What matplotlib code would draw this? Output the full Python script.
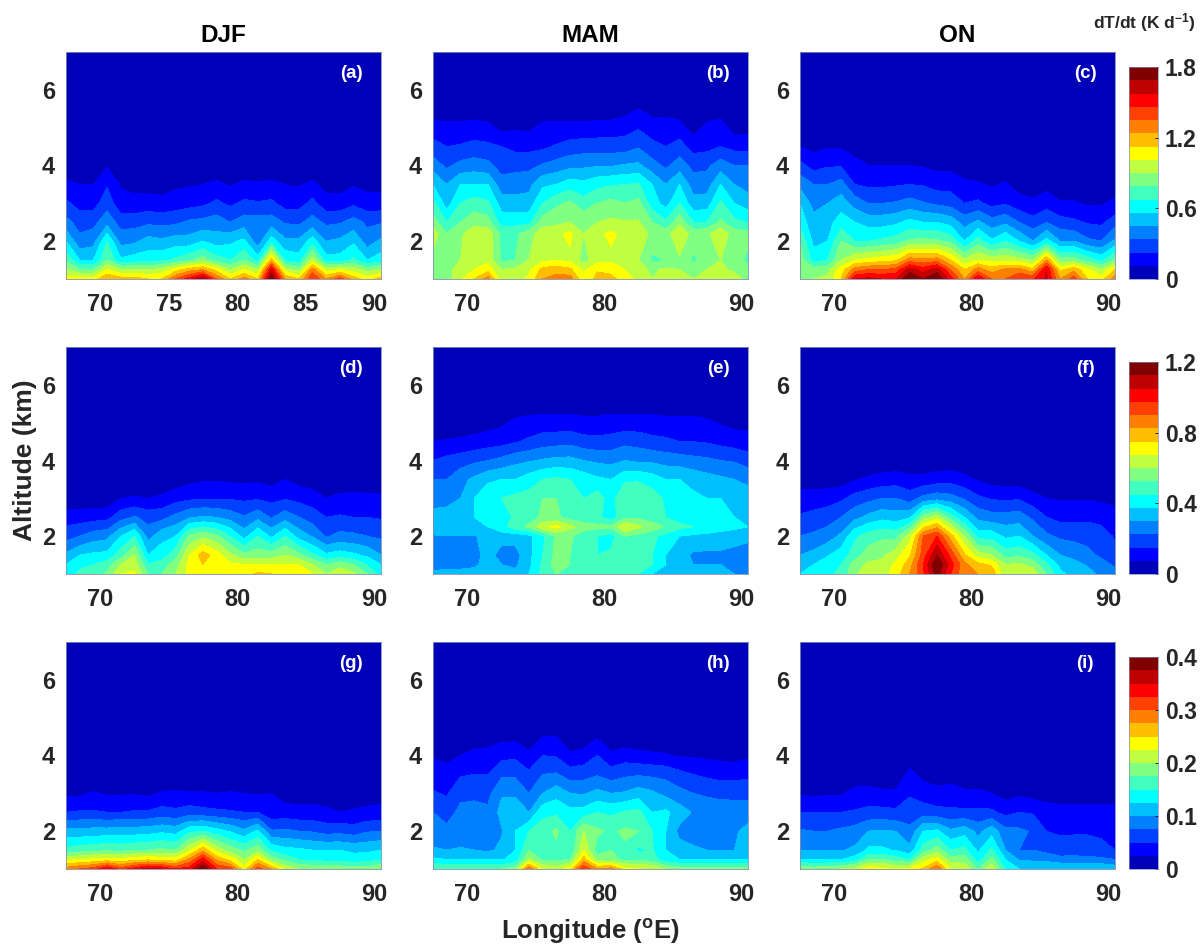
import numpy as np
import matplotlib
matplotlib.use("Agg")
import matplotlib.pyplot as plt
from matplotlib.colors import ListedColormap

plt.rcParams['font.family'] = ['Liberation Sans', 'DejaVu Sans']
plt.rcParams['font.weight'] = 'bold'
plt.rcParams['mathtext.fontset'] = 'custom'
plt.rcParams['mathtext.bf'] = 'Liberation Sans:bold'
plt.rcParams['mathtext.rm'] = 'Liberation Sans:bold'

lon = np.arange(67.5, 91, 1.0)
alt = [1, 1.25, 1.5, 2, 2.5, 3, 3.5, 4, 4.5, 5, 5.5, 6, 7]
alt_b = [1, 1.25, 1.5, 2.2, 2.5, 3, 3.5, 4, 4.5, 5, 5.5, 6, 7]
alt_e = [1, 1.25, 1.5, 2, 2.25, 2.5, 3, 3.5, 4, 4.5, 5, 5.5, 6, 7]

# heating rates, in colour steps (1/16 of the bar), lowest altitude first
vals_a = [
    [9.5, 9.5, 9.5, 11, 10.5, 10.5, 10, 10, 12, 13.5, 15, 12, 10, 11.5, 10, 16, 11, 10, 13, 11, 12.5, 10.5, 9.5, 10.5],
    [8, 7, 7, 9, 8, 8, 8, 8.3, 9.5, 10.5, 11, 9.5, 8, 9, 8, 14, 8.5, 7.5, 11.5, 8.5, 9, 8.5, 7.5, 8],
    [6.8, 5, 5, 7, 5.2, 5.5, 5.6, 5.8, 6.2, 6.8, 7.5, 6.5, 6, 7, 5.5, 10.5, 5.8, 5.5, 8.5, 5.4, 5.4, 6.2, 5, 5.5],
    [5, 3.3, 3.6, 6, 3.6, 3.8, 4.4, 4.2, 4.5, 4.4, 5, 4.5, 4.8, 5.2, 3.4, 5.5, 4.2, 4.2, 5.5, 4, 4.2, 4.8, 3.5, 4.2],
    [3.3, 2.6, 2.7, 3.6, 2.6, 2.6, 2.8, 2.7, 2.8, 3.2, 3.3, 3.5, 3, 3.5, 3.5, 3.5, 2.9, 2.8, 3.4, 2.8, 2.9, 3.4, 2.8, 2.9],
    [2.2, 1.6, 1.6, 2.6, 1.3, 1.3, 1.4, 1.3, 1.5, 1.6, 1.8, 2.2, 1.8, 2.2, 2.1, 2.2, 1.6, 1.6, 2.3, 1.4, 1.4, 1.8, 1.4, 1.4],
    [1.2, 1, 1, 1.9, .9, .7, .6, .6, .8, .9, 1, 1.2, .9, 1.2, 1.1, 1.2, 1, .9, 1.2, .6, .6, .9, .7, .7],
    [.3, .2, .2, .9, .2, .1, .1, .1, .2, .2, .2, .3, .2, .3, .3, .3, .2, .2, .3, .1, .1, .2, .1, .1],
]
vals_b = [
    [7.2, 7.5, 8.8, 10, 11.5, 8.5, 8.5, 9.2, 11, 11.4, 11.5, 9.2, 10.3, 10.3, 9.5, 8.7, 8, 8.6, 8.1, 8, 8.2, 8.8, 8.5, 7.5],
    [7.2, 7.6, 8.5, 9, 9.6, 8, 8.2, 8.8, 10.3, 10.6, 10.2, 8.8, 9.9, 9.7, 9, 8.4, 7.8, 8.2, 8, 7.6, 8, 8.2, 7.8, 7.2],
    [7.6, 7.5, 8, 8.6, 8.7, 6.8, 7, 8, 8.8, 8.9, 8.8, 7.6, 8.6, 8.8, 8.5, 8, 6.8, 7, 7.8, 6.8, 7.4, 8, 7.4, 6.8],
    [8.6, 7, 7.8, 8.7, 8.6, 6.8, 6.8, 7.5, 8.6, 8.8, 9.2, 8, 8.8, 9.2, 8.7, 8.7, 7.7, 7.5, 9, 7.5, 7.8, 8.7, 7.5, 7.3],
    [7.5, 6, 7, 7.6, 7.4, 5.6, 5.6, 5.7, 7.5, 7.7, 8, 7.8, 8, 8.2, 8.1, 8.1, 7, 6.2, 7.7, 6, 6, 7.2, 6.3, 5.9],
    [6.3, 4.5, 6, 6.5, 6.2, 4.5, 4.4, 4.4, 6, 6.8, 7.2, 6.4, 7, 7.3, 7, 7.3, 5.5, 4.6, 6, 4.4, 4.5, 6.2, 5, 4.5],
    [5, 4, 5, 5, 5, 3.4, 3.5, 3.7, 4.8, 5, 5.5, 5.3, 5.7, 5.9, 6, 6.1, 5, 4, 5, 3.5, 3.5, 5, 4, 3.6],
    [3.5, 2.8, 3.3, 3.5, 3.3, 2.6, 2.7, 2.7, 3.1, 3.4, 3.7, 3.8, 3.9, 3.9, 4.1, 4.2, 3.4, 2.8, 3.5, 2.7, 2.8, 3.5, 3, 3],
    [2.4, 2, 2.1, 2.3, 2.2, 2, 1.7, 1.7, 1.8, 2.1, 2.4, 2.5, 2.5, 2.5, 2.5, 2.9, 2.3, 2, 2.4, 1.6, 1.7, 2, 1.7, 1.6],
    [1.4, 1.3, 1.3, 1.4, 1.3, .7, .9, .8, 1.3, 1.3, 1.3, 1.3, 1.4, 1.4, 1.6, 1.9, 1.5, 1.5, 1.4, .5, 1.3, 1.5, .5, .7],
    [.4, .3, .3, .4, .3, .1, .1, .1, .3, .3, .3, .3, .4, .4, .6, 1, .6, .6, .4, 0, .3, .4, 0, 0],
]
vals_c = [
    [7.5, 8, 8.3, 10, 14, 14.3, 14, 14, 16, 15, 16, 13.5, 11, 14, 12, 12, 13, 12.8, 14.2, 11, 12.5, 10, 9.5, 11.5],
    [7.5, 7.4, 7.6, 9.5, 11.5, 12, 12, 12.3, 14.5, 13.5, 14.5, 12, 10, 11.5, 10.5, 11.2, 11.4, 10.3, 14, 9.7, 10.7, 9.2, 8, 10],
    [7.5, 5.6, 6, 8, 9, 9.3, 9.6, 9.8, 11.5, 11.3, 11.5, 10, 8.2, 9, 8.6, 8.7, 8.4, 7.8, 11, 7.4, 7.4, 6.6, 5.7, 7.2],
    [7, 4.7, 5, 7, 6, 6, 6.2, 6.5, 7.2, 7.3, 7.2, 6.7, 5, 6.5, 5.2, 6, 5, 4, 5.4, 4, 4, 3.2, 3, 4.2],
    [5.5, 4.4, 4.6, 5.5, 5, 4.6, 4.6, 4.8, 5.3, 5, 5, 4.6, 3.6, 4.2, 3.4, 3.8, 3, 2.4, 3, 2.4, 2.2, 1.9, 1.8, 2.5],
    [5, 3.6, 4, 4.5, 3.6, 3, 3, 3.1, 3.4, 3.1, 2.8, 2.6, 2, 2.2, 1.7, 1.9, 1.4, 1.2, 1.5, 1.1, 1.1, .9, .9, 1.2],
    [3.7, 3, 3, 3.4, 2, 1.8, 1.8, 1.9, 2, 1.9, 1.6, 1.6, 1.2, 1.1, .9, 1.1, .6, .5, .7, .4, .4, .3, .3, .5],
    [2.3, 1.6, 1.9, 1.9, 1.4, 1, 1, 1, 1, .9, .7, .7, .5, .4, .3, .4, .2, .1, .3, 0, 0, 0, 0, .1],
    [1, .7, .9, .9, .5, .3, .3, .3, .3, .2, 0, 0, 0, 0, 0, 0, 0, 0, 0, 0, 0, 0, 0, 0],
]
vals_d = [
    [5.5, 6.2, 6.5, 7.2, 9, 9.2, 7, 7, 8, 9.2, 9.6, 9.6, 9.6, 9.6, 10.2, 10, 9.6, 9.6, 9, 8, 8.8, 8.2, 7, 5.5],
    [5, 5.8, 6, 6.5, 8, 8.5, 6, 6.5, 7.5, 9.3, 10, 9.8, 9.2, 9, 9, 9, 9, 9, 8, 7, 7.6, 7, 5.9, 5],
    [4.2, 5, 5.2, 5.3, 6.5, 8, 5, 5.5, 6.6, 9, 10.5, 9.5, 8.2, 7.3, 7.5, 7.5, 8, 7.3, 6.2, 5.2, 5.5, 5.2, 4.8, 4],
    [2.6, 3, 3.5, 3.7, 5, 6, 3.6, 4.7, 5, 7.2, 7.8, 7.2, 6, 4.6, 6, 4.8, 6, 4.6, 3.9, 2.9, 3.3, 3.2, 3, 2.8],
    [1.5, 1.5, 1.6, 1.7, 2.6, 3.1, 2.6, 2.7, 3.3, 3.9, 4.1, 4, 3.6, 3.1, 3.7, 2.9, 3.6, 3, 2.5, 2, 2.1, 2, 2, 1.9],
    [.3, .3, .3, .3, 1, 1.1, 1, 1.2, 1.6, 1.8, 1.9, 1.9, 1.9, 1.8, 1.9, 1.7, 1.9, 1.7, 1.5, 1, 1.3, 1.3, 1.3, 1.3],
    [0, 0, 0, 0, .2, .2, .2, .2, .4, .7, .9, .9, .8, .8, .8, .6, 1, .6, .4, 0, .2, .3, .2, .2],
]
vals_e = [
    [4.1, 4.2, 4.2, 4.2, 4.2, 4.3, 4.3, 5, 6.3, 7, 6.5, 6.3, 6.3, 6.4, 7, 6, 5, 4.5, 4.2, 4.2, 4.2, 4.2, 4, 3.8],
    [3.8, 3.8, 3.8, 3.9, 4.2, 4, 3.8, 4.7, 6.2, 7.5, 7, 6.5, 6, 6.2, 6.5, 6.5, 6, 5, 4.2, 4, 4, 4, 3.6, 3.5],
    [3.5, 3.5, 3.5, 3.5, 4.5, 3.5, 3.6, 4.7, 6, 7.3, 7, 6.5, 6, 6.2, 6.5, 6.2, 6, 5, 4.5, 3.8, 3.8, 3.8, 3.6, 3.4],
    [3.9, 3.9, 3.9, 3.9, 4.4, 4.5, 4.4, 4.7, 5.7, 7.2, 7.2, 6.4, 6, 5.6, 7, 6.7, 6.2, 5.7, 5, 4.8, 4.7, 4.6, 4.5, 4.3],
    [4.7, 4.8, 4.9, 5, 5, 5.6, 6.6, 7.2, 8.7, 9.3, 8.3, 7.5, 7.3, 7.2, 9, 8.2, 7.6, 6.9, 6.3, 6, 5.7, 5.4, 5.2, 5],
    [4.5, 4.6, 4.7, 5, 5.3, 5.4, 6.2, 6.5, 7.2, 7.2, 6.6, 6.3, 6.2, 5.5, 6.8, 6.8, 6.4, 6, 5.5, 5.3, 5.3, 5.2, 5, 4.8],
    [3.4, 3.5, 4, 5, 5.7, 6, 6.3, 6.4, 7, 7, 6.2, 6, 6.5, 5.5, 7, 6.7, 6.5, 5.8, 5.3, 5.2, 5, 5, 4.9, 4.4],
    [3, 3, 3.7, 4.2, 4.8, 5, 5, 5.5, 6, 6.2, 6, 5.6, 5.2, 5, 5.8, 5.9, 5.5, 5, 5, 4.7, 4.4, 4.2, 4, 3.8],
    [2, 2.3, 2.5, 2.8, 3, 3.3, 3.7, 3.9, 4.1, 4.3, 4.3, 4, 3.8, 3.7, 4, 3.8, 3.8, 3.6, 3.5, 3.3, 3.2, 3, 2.9, 2.5],
    [1, 1.1, 1.2, 1.3, 1.5, 1.6, 1.9, 2.2, 2.5, 2.6, 2.7, 2.4, 2.3, 2.4, 2.7, 2.6, 2.3, 2.2, 2, 2, 1.9, 1.7, 1.5, 1.4],
    [0, .2, .3, .5, .6, .8, 1.2, 1.3, 1.4, 1.4, 1.4, 1.3, 1.3, 1.4, 1.4, 1.4, 1.4, 1.3, 1.3, 1.3, 1.2, .9, .7, .7],
    [0, 0, 0, 0, 0, 0, .4, .5, .5, .5, .5, .4, .4, .5, .5, .5, .5, .4, .4, .4, .3, 0, 0, 0],
]
vals_f = [
    [5, 5.4, 5.8, 6.2, 7.8, 8.7, 8.5, 9.5, 11, 12.8, 15.5, 13, 11.2, 11, 10.8, 8, 8.7, 8.8, 7, 5.2, 4.7, 4.3, 3.8, 3.5],
    [4.5, 5, 5.5, 6, 7.5, 8.2, 8.3, 9.2, 10.5, 13, 16, 13.5, 11.3, 10.3, 9.8, 8, 8.2, 7.6, 6.2, 4.7, 4.3, 3.9, 3.4, 2.8],
    [4, 4.3, 4.9, 5.5, 6.5, 7.5, 7.8, 8.6, 9.8, 12.5, 15, 12.7, 10.2, 8.5, 8, 6.6, 6.8, 6.3, 5, 4, 3.7, 3.3, 2.8, 2.3],
    [3, 3.2, 3.5, 4.2, 5.8, 6.5, 6.8, 6.7, 8.5, 12, 13, 10.5, 8, 5.6, 5.6, 4.8, 5, 4, 3.2, 2.8, 2.7, 2.6, 2.4, 1.9],
    [2.1, 2.3, 2.5, 3, 3.7, 4.3, 4.7, 4.5, 4.8, 7.5, 8.5, 6.5, 5, 3.7, 3.4, 3.4, 3.5, 2.8, 2, 1.7, 1.7, 1.8, 1.7, 1.4],
    [1.5, 1.5, 1.6, 1.8, 2.4, 2.7, 3, 3, 2.5, 3.3, 3.6, 3.4, 2.9, 2.2, 1.9, 1.8, 1.9, 1.4, 1, .9, .9, .9, .8, .7],
    [.4, .4, .4, .5, .9, 1.2, 1.4, 1.5, 1.3, 1.3, 1.5, 1.6, 1.3, .9, .6, .5, .4, .2, 0, 0, 0, 0, 0, 0],
    [0, 0, 0, 0, 0, .1, .2, .3, .2, .2, .3, .3, .2, 0, 0, 0, 0, 0, 0, 0, 0, 0, 0, 0],
]
vals_g = [
    [11.5, 12, 12.5, 14, 12.5, 13.5, 14.5, 14, 13, 13.5, 16, 13, 12.5, 9.5, 12.5, 11, 8.8, 8, 7.8, 7.6, 7.7, 7.5, 7.5, 8],
    [8.7, 9, 9.2, 9.4, 9.2, 9.7, 9.8, 9.6, 9.4, 11.2, 13.5, 10.8, 9.6, 8, 10, 7.5, 6.7, 6, 5.7, 5.7, 5.6, 5.4, 5.6, 5.9],
    [6.4, 6.5, 6.7, 6.8, 6.7, 6.9, 7, 7.2, 7, 8.8, 10.7, 8.6, 7.5, 6.8, 7.6, 5.8, 5.3, 5.2, 5, 5, 5, 4.8, 4.8, 5],
    [4.3, 4.3, 4.4, 4.4, 4.5, 4.5, 4.6, 4.8, 4.6, 5.7, 6, 5.4, 4.9, 4.2, 5.2, 3.1, 3.2, 3, 2.9, 2.6, 2.7, 2.5, 2.9, 3],
    [2, 2.1, 2.1, 2, 2, 2.1, 2.1, 2.4, 2.2, 2.5, 2.3, 2.2, 2.1, 2, 2, 1.3, 1.4, 1.3, 1.3, 1.2, 1, 1.1, 1.2, 1.2],
    [.8, .8, 1.1, .9, .9, .9, .8, 1.1, 1.2, 1.1, 1.1, 1, 1.1, 1, .9, 1, .5, .6, .6, .5, .4, .5, .6, .7],
]
vals_h = [
    [7, 7, 7, 7, 7, 7, 7.5, 12, 9, 8.5, 9.5, 13, 11, 11.5, 9.5, 9, 9, 8, 7.5, 7.5, 7.5, 7.5, 7.5, 7.3],
    [5.2, 5, 5, 5, 5, 4.9, 5.3, 8.2, 6.8, 6.8, 7, 10.5, 7.5, 7.3, 6.8, 6.8, 6.5, 5.4, 5, 5, 5, 5, 5, 5],
    [4.1, 4, 4.1, 4, 3.8, 4.2, 5, 7, 6.3, 6.8, 6, 9, 6.5, 7, 6.8, 5.8, 6.1, 5, 4.4, 4.2, 4, 4, 4, 4.1],
    [3.5, 3.3, 3.4, 3.4, 3.4, 3.9, 5, 6, 6.5, 7.2, 6, 8, 7.2, 6.8, 7.2, 7, 6, 5, 3.7, 3.4, 3.5, 3.5, 3.9, 4.2],
    [3, 2.5, 3.3, 3.3, 3.2, 4.3, 4.4, 4, 5.7, 5.8, 5.3, 5.4, 6, 5.8, 6.1, 6.3, 5, 5.2, 4.5, 3.9, 3.8, 3.8, 3.7, 3.7],
    [2.1, 1.9, 2.7, 2.8, 2.7, 3.9, 3.9, 3, 4, 4.6, 4, 3.9, 4.3, 4, 4.1, 4.5, 4.2, 3.7, 3.3, 3, 2.8, 2.6, 2.6, 2.6],
    [1.5, 1.4, 1.9, 2, 2, 2.8, 2.8, 2.2, 3, 3.1, 2.5, 2.6, 2.9, 2.5, 2.8, 2.9, 2.8, 2.7, 2.3, 2, 1.8, 1.7, 1.7, 1.8],
    [.9, .7, 1, 1.4, 1.5, 1.7, 1.8, 1.3, 2, 1.9, 1.2, 1.4, 2, 1.2, 1.5, 1.3, 1.2, 1.1, .9, .9, .8, .7, .6, .8],
    [0, 0, 0, .2, .3, .7, .7, .2, 1, 1, .2, .3, .9, .2, .3, .2, .1, .1, 0, 0, 0, 0, 0, 0],
]
vals_i = [
    [8, 7.5, 7.7, 8, 8.5, 9.7, 9.4, 9, 9.3, 10.2, 12, 9, 8.8, 7, 8.8, 6, 5, 5, 5, 5, 5, 5, 5, 4.7],
    [5, 5, 5, 5, 5.5, 7, 7, 6.5, 6, 8.5, 9.5, 7.5, 7.5, 5.5, 7.3, 5, 3.9, 3.8, 3.7, 3.4, 3.4, 3.3, 3.2, 3],
    [4, 3.9, 3.9, 3.9, 4.2, 5.2, 5.2, 4.9, 4.3, 6.5, 7.5, 6, 6.3, 4.8, 6.2, 4, 3, 3, 2.7, 2.3, 2.4, 2.4, 2.3, 2],
    [3.1, 3, 3, 3.2, 3.4, 4, 4.1, 4, 3.3, 5, 5.2, 4.2, 4.6, 3.7, 4.6, 3.3, 3.2, 2.9, 2, 1.9, 1.9, 1.9, 1.8, 1.7],
    [2, 2, 2, 2, 2.1, 2.3, 2.3, 2.2, 2.4, 2.5, 2.3, 2.2, 2.2, 2.2, 2.2, 1.7, 2, 1.9, 1.6, 1.5, 1.5, 1.5, 1.5, 1.5],
    [.9, .8, .9, .9, 1.3, 1.3, 1.2, 1.2, 1.9, 1.5, 1.3, 1.4, 1.2, 1.2, 1, .6, .8, .6, .4, .3, .3, .3, .3, .3],
    [0, 0, 0, 0, .4, .5, .3, .3, 1.3, .7, .5, .6, .3, .3, .2, 0, .1, 0, 0, 0, 0, 0, 0, 0],
    [0, 0, 0, 0, 0, 0, 0, 0, .4, 0, 0, 0, 0, 0, 0, 0, 0, 0, 0, 0, 0, 0, 0, 0],
]

seasons = ['DJF', 'MAM', 'ON']
row_max = [1.8, 1.2, 0.4]
cbar_ticks = [[0, 0.6, 1.2, 1.8], [0, 0.4, 0.8, 1.2], [0, 0.1, 0.2, 0.3, 0.4]]
cbar_labels = [['0', '0.6', '1.2', '1.8'], ['0', '0.4', '0.8', '1.2'], ['0', '0.1', '0.2', '0.3', '0.4']]
panels = [
    ('(a)', alt, vals_a), ('(b)', alt_b, vals_b), ('(c)', alt, vals_c),
    ('(d)', alt, vals_d), ('(e)', alt_e, vals_e), ('(f)', alt, vals_f),
    ('(g)', alt, vals_g), ('(h)', alt, vals_h), ('(i)', alt, vals_i),
]

# matlab jet(16)
jet16 = ListedColormap([
    (0, 0, .72), (0, 0, 1), (0, .25, 1), (0, .5, 1), (0, .75, 1), (0, 1, 1),
    (.25, 1, .75), (.5, 1, .5), (.75, 1, .25), (1, 1, 0), (1, .75, 0), (1, .5, 0),
    (1, .25, 0), (1, 0, 0), (.75, 0, 0), (.5, 0, 0),
])

W, H = 1203, 949
col_left = [66, 433, 800]
row_top = [52, 347, 642]
ax_w, ax_h = 315, 227
ink = '#262626'


def px_axes(fig, left, top, w, h):
    return fig.add_axes([left / W, 1 - (top + h) / H, w / W, h / H])


fig = plt.figure(figsize=(W / 100, H / 100), dpi=100)

for n, (tag, z, rows) in enumerate(panels):
    r, c = divmod(n, 3)
    vmax = row_max[r]
    data = np.zeros((len(z), len(lon)))
    data[:len(rows)] = np.array(rows) * vmax / 16
    levels = np.linspace(0, vmax, 17)

    ax = px_axes(fig, col_left[c], row_top[r], ax_w, ax_h)
    cf = ax.contourf(lon, z, np.clip(data, 0, vmax), levels=levels, cmap=jet16)
    ax.set_xlim(67.5, 90.5)
    ax.set_ylim(1, 7)
    ax.set_yticks([2, 4, 6])
    ax.set_xticks([70, 75, 80, 85, 90] if n == 0 else [70, 80, 90])
    ax.tick_params(length=0, labelsize=17, labelcolor=ink, pad=8)
    ax.tick_params(axis='x', pad=10)
    for spine in ax.spines.values():
        spine.set_linewidth(0.6)
        spine.set_color('#7f8fb0')
    ax.text(0.905, 0.905, tag, transform=ax.transAxes, color='white', fontsize=13.5,
            ha='center', va='center')
    if r == 0:
        ax.set_title(seasons[c], fontsize=17.5, fontweight='bold', pad=7, color='black')

    if c == 2:
        cax = px_axes(fig, 1129, row_top[r] + 15, 29, 212)
        cb = fig.colorbar(cf, cax=cax, ticks=cbar_ticks[r])
        cb.ax.set_yticklabels(cbar_labels[r])
        cb.ax.tick_params(labelsize=16.5, labelcolor=ink, length=2, width=0.6, direction='in', pad=5)
        cb.outline.set_linewidth(0.5)
        cb.outline.set_edgecolor('#7f8fb0')

fig.text(25 / W, 1 - 460 / H, 'Altitude (km)', rotation=90, fontsize=19, color=ink,
         ha='center', va='center')
fig.text(590 / W, 1 - 932 / H, r'Longitude ($\mathbf{^{o}}$E)', fontsize=18.5, color=ink,
         ha='center', va='center')
fig.text(1144 / W, 1 - 23 / H, r'dT/dt (K d$\mathbf{^{-1}}$)', fontsize=12.5, color=ink,
         ha='center', va='center')

fig.savefig('out.png', dpi=100)
